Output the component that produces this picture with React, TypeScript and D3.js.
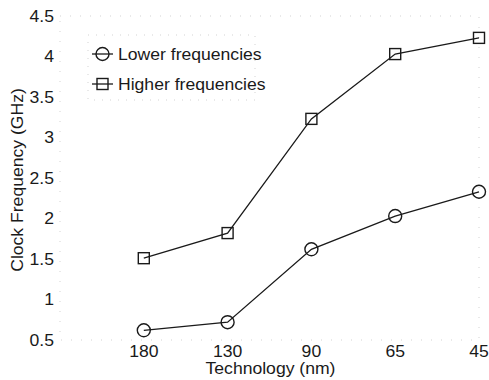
import { useRef, useEffect } from 'react';
import * as d3 from 'd3';

const technologies = ['180', '130', '90', '65', '45'];
const lowerFreq = [0.62, 0.72, 1.62, 2.03, 2.33];
const higherFreq = [1.51, 1.82, 3.23, 4.03, 4.23];
const yTicks = [0.5, 1, 1.5, 2, 2.5, 3, 3.5, 4, 4.5];

const W = 489;
const H = 380;

const App = () => {
  const svgRef = useRef<SVGSVGElement>(null);

  useEffect(() => {
    if (!svgRef.current) return;
    const svg = d3.select(svgRef.current);
    svg.selectAll('*').remove();

    const left = 60, right = 479, top = 16, bottom = 340;
    const font = '"Liberation Sans", Arial, sans-serif';
    const ink = '#1a1a1a';
    const stretch = 1.1; // the scanned glyphs are a bit wider than Liberation Sans

    const x = d3.scaleLinear().domain([0, 5]).range([left, right]);
    const y = d3.scaleLinear().domain([0.5, 4.5]).range([bottom, top]);

    // text helper: places a label, stretched along its own direction
    const label = (g: any, tx: number, ty: number, str: string, anchor: string, rotate = 0, dy = '0') =>
      g.append('text')
        .attr('transform', `translate(${tx},${ty}) rotate(${rotate}) scale(${stretch},1)`)
        .attr('text-anchor', anchor)
        .attr('dy', dy)
        .attr('font-family', font)
        .attr('font-size', 16)
        .attr('fill', ink)
        .text(str);

    svg.append('rect').attr('width', W).attr('height', H).attr('fill', '#fff');

    // faint scanned-looking axes box
    svg.append('rect')
      .attr('x', left).attr('y', top)
      .attr('width', right - left).attr('height', bottom - top)
      .attr('fill', 'none')
      .attr('stroke', '#c8c8c8')
      .attr('stroke-width', 0.8)
      .attr('stroke-dasharray', '1,9');

    const yg = svg.append('g');
    yTicks.forEach(t => label(yg, left - 6, y(t), String(t), 'end', 0, '0.35em'));

    const xg = svg.append('g');
    technologies.forEach((t, i) => label(xg, x(i + 1), bottom + 17, t, 'middle'));

    label(svg, (left + right) / 2 + 1, 374, 'Technology (nm)', 'middle');
    label(svg, 23, 180, 'Clock Frequency (GHz)', 'middle', -90);

    const line = d3.line<number>()
      .x((d, i) => x(i + 1))
      .y(d => y(d));

    const series = [
      { name: 'Lower frequencies', values: lowerFreq, marker: 'circle' },
      { name: 'Higher frequencies', values: higherFreq, marker: 'square' }
    ];

    const drawMarker = (g: any, marker: string, cx: number, cy: number) => {
      if (marker === 'circle') {
        g.append('circle')
          .attr('cx', cx).attr('cy', cy).attr('r', 6.5)
          .attr('fill', 'none').attr('stroke', ink).attr('stroke-width', 1.4);
      } else {
        g.append('rect')
          .attr('x', cx - 5.5).attr('y', cy - 5.5)
          .attr('width', 11).attr('height', 11)
          .attr('fill', 'none').attr('stroke', ink).attr('stroke-width', 1.4);
      }
    };

    series.forEach(s => {
      const g = svg.append('g');
      g.append('path')
        .datum(s.values)
        .attr('d', line as any)
        .attr('fill', 'none')
        .attr('stroke', ink)
        .attr('stroke-width', 1.3);
      s.values.forEach((v, i) => drawMarker(g, s.marker, x(i + 1), y(v)));
    });

    // legend
    const lg = svg.append('g');
    lg.append('rect')
      .attr('x', 88).attr('y', 35)
      .attr('width', 167).attr('height', 65)
      .attr('fill', 'none')
      .attr('stroke', '#c8c8c8')
      .attr('stroke-width', 0.8)
      .attr('stroke-dasharray', '1,7');
    series.forEach((s, i) => {
      const cy = 54 + i * 30;
      lg.append('line')
        .attr('x1', 92).attr('x2', 113)
        .attr('y1', cy).attr('y2', cy)
        .attr('stroke', ink).attr('stroke-width', 1.3);
      drawMarker(lg, s.marker, 102.5, cy);
      label(lg, 118, cy, s.name, 'start', 0, '0.35em');
    });
  }, []);

  return (
    <div style={{ position: 'absolute', left: 0, top: 0 }}>
      <svg ref={svgRef} width={W} height={H} style={{ display: 'block' }} />
    </div>
  );
};

export default App;
